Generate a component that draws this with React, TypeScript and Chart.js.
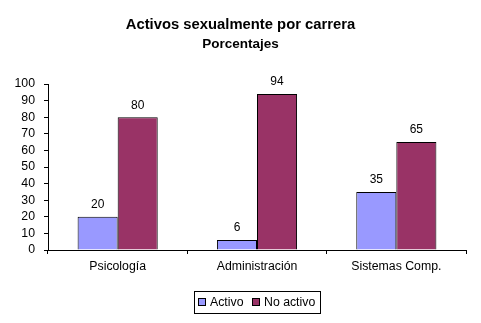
import React, { useEffect, useRef } from "react";
import { Chart, registerables } from "chart.js";

Chart.register(...registerables);

const categories = ["Psicología", "Administración", "Sistemas Comp."];
const activo = [20, 6, 35];
const noActivo = [80, 94, 65];
const seriesNames = ["Activo", "No activo"];
const yTicks = [0, 10, 20, 30, 40, 50, 60, 70, 80, 90, 100];
const titleText = "Activos sexualmente por carrera";
const subtitleText = "Porcentajes";

const FONT = "'Liberation Sans', Arial, sans-serif";
const colors = ["#9999FF", "#993366"];

const titlePlugin = {
  id: "customTitle",
  afterDraw(chart: any) {
    const ctx = chart.ctx;
    ctx.save();
    ctx.fillStyle = "#000";
    ctx.textAlign = "center";
    ctx.textBaseline = "middle";
    ctx.font = `bold 14.8px ${FONT}`;
    ctx.fillText(titleText, chart.width / 2, 25);
    ctx.font = `bold 13.5px ${FONT}`;
    ctx.fillText(subtitleText, chart.width / 2, 44);
    ctx.restore();
  },
};

const labelsPlugin = {
  id: "valueLabels",
  afterDatasetsDraw(chart: any) {
    const ctx = chart.ctx;
    ctx.save();
    ctx.fillStyle = "#000";
    ctx.font = `12px ${FONT}`;
    ctx.textAlign = "center";
    ctx.textBaseline = "bottom";
    chart.data.datasets.forEach((ds: any, i: number) => {
      const meta = chart.getDatasetMeta(i);
      meta.data.forEach((el: any, j: number) => {
        ctx.fillText(String(ds.data[j]), el.x, el.y - 6);
      });
    });
    ctx.restore();
  },
};

const legendPlugin = {
  id: "boxLegend",
  afterDraw(chart: any) {
    const ctx = chart.ctx;
    ctx.save();
    ctx.font = `12.3px ${FONT}`;
    const widths = seriesNames.map((n) => ctx.measureText(n).width);
    const box = 8;
    const gapText = 4;
    const itemGap = 9;
    const pad = 4;
    let total = pad * 2;
    widths.forEach((w, i) => {
      total += box + gapText + w + (i < widths.length - 1 ? itemGap : 0);
    });
    const cx = (chart.chartArea.left + chart.chartArea.right) / 2;
    const left = Math.round(cx - total / 2);
    const top = 291;
    const h = 22;
    const cy = top + h / 2;
    ctx.strokeStyle = "#000";
    ctx.lineWidth = 1;
    ctx.strokeRect(left + 0.5, top + 0.5, Math.round(total), h);
    let x = left + pad;
    seriesNames.forEach((n, i) => {
      const bx = Math.round(x);
      ctx.fillStyle = colors[i];
      ctx.fillRect(bx, cy - box / 2, box, box);
      ctx.strokeRect(bx + 0.5, cy - box / 2 + 0.5, box - 1, box - 1);
      ctx.fillStyle = "#000";
      ctx.textAlign = "left";
      ctx.textBaseline = "middle";
      ctx.fillText(n, bx + box + gapText, cy + 0.5);
      x += box + gapText + widths[i] + itemGap;
    });
    ctx.restore();
  },
};

export default function App() {
  const ref = useRef<HTMLCanvasElement | null>(null);
  useEffect(() => {
    document.body.style.margin = "0";
    if (!ref.current) return;
    const chart = new Chart(ref.current, {
      type: "bar",
      data: {
        labels: categories,
        datasets: [
          {
            label: seriesNames[0],
            data: activo,
            backgroundColor: colors[0],
            borderColor: "#000",
            borderWidth: 1,
          },
          {
            label: seriesNames[1],
            data: noActivo,
            backgroundColor: colors[1],
            borderColor: "#000",
            borderWidth: 1,
          },
        ],
      },
      options: {
        animation: false,
        responsive: false,
        maintainAspectRatio: false,
        layout: { padding: { top: 84, bottom: 43, left: 0, right: 15 } },
        datasets: {
          bar: { categoryPercentage: 0.575, barPercentage: 1 },
        },
        plugins: {
          legend: { display: false },
          title: { display: false },
          tooltip: { enabled: false },
        },
        scales: {
          x: {
            grid: {
              offset: true,
              drawOnChartArea: false,
              drawTicks: true,
              tickLength: 4,
              color: "#000",
            },
            border: { color: "#000", width: 1 },
            ticks: {
              color: "#000",
              font: { family: FONT, size: 12.3 },
              padding: 5,
              maxRotation: 0,
              autoSkip: false,
            },
            afterFit: (s: any) => {
              s.height = 30;
            },
          },
          y: {
            min: 0,
            max: 100,
            afterBuildTicks: (s: any) => {
              s.ticks = yTicks.map((v) => ({ value: v }));
            },
            grid: {
              drawOnChartArea: false,
              drawTicks: true,
              tickLength: 4,
              color: "#000",
            },
            border: { color: "#000", width: 1 },
            ticks: {
              color: "#000",
              font: { family: FONT, size: 12.3 },
              padding: 9,
              autoSkip: false,
            },
            afterFit: (s: any) => {
              s.width = 48;
            },
          },
        },
      },
      plugins: [titlePlugin, labelsPlugin, legendPlugin],
    });
    return () => chart.destroy();
  }, []);
  return (
    <div style={{ position: "absolute", left: 0, top: 0, width: 481, height: 323, background: "#fff" }}>
      <canvas ref={ref} width={481} height={323} style={{ width: 481, height: 323 }} />
    </div>
  );
}
